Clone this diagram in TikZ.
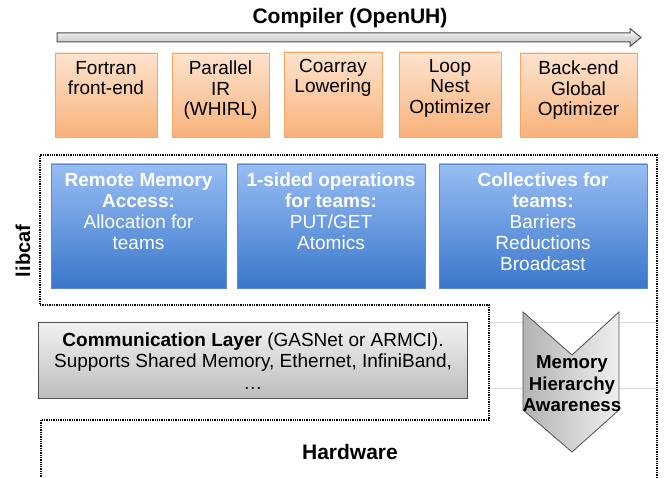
\documentclass[tikz,border=0pt]{standalone}
\usepackage{fontspec}
\setmainfont{Liberation Sans}
\usetikzlibrary{shadows}
\definecolor{orTop}{HTML}{FDE3CE}
\definecolor{orBot}{HTML}{F9B27A}
\definecolor{orLine}{HTML}{F5A565}
\definecolor{blTop}{HTML}{98BDF4}
\definecolor{blBot}{HTML}{3A77CB}
\definecolor{blLine}{HTML}{5A8AD0}
\definecolor{gyTop}{HTML}{F2F2F2}
\definecolor{gyBot}{HTML}{BDBDBD}
\definecolor{gyLine}{HTML}{505050}
\definecolor{arFill}{HTML}{DCDCDC}
\tikzset{
  softshadow/.style={drop shadow={shadow xshift=1pt, shadow yshift=-1.5pt, opacity=0.22, fill=black}},
  obox/.style={draw=orLine, line width=0.8pt, top color=orTop, bottom color=orBot, inner sep=0pt, outer sep=0pt, softshadow},
  bbox/.style={draw=blLine, line width=0.8pt, top color=blTop, bottom color=blBot, inner sep=0pt, outer sep=0pt, softshadow},
  gbox/.style={draw=gyLine, line width=0.8pt, top color=gyTop, bottom color=gyBot, inner sep=0pt, outer sep=0pt, softshadow},
  otext/.style={align=center, inner sep=0pt, anchor=north, font=\fontsize{19}{20.5}\selectfont},
  btext/.style={align=center, inner sep=0pt, anchor=north, text=white, font=\fontsize{19}{21}\selectfont},
  dotline/.style={densely dotted, line width=1.3pt},
  thinline/.style={draw=black!15, line width=0.7pt},
}
\begin{document}
\begin{tikzpicture}[x=1pt,y=-1pt]
\useasboundingbox (0,0) rectangle (670,478);

% title and compiler arrow
\node[font=\fontsize{21}{23}\selectfont\bfseries, inner sep=0pt] (title) at (350,18) {Compiler (OpenUH)};
\path[draw=gyLine, line width=1pt, top color=white!92!arFill, bottom color=arFill!85!black, line join=miter]
  (57,33) -- (630,33) -- (630,28.5) -- (641,37.5) -- (630,46.5) -- (630,42) -- (57,42) -- cycle;

% compiler stages
\node[obox, minimum width=102pt, minimum height=84pt] (f1) at (106,95) {};
\node[obox, minimum width=97pt, minimum height=84pt] (f2) at (220.5,95) {};
\node[obox, minimum width=98pt, minimum height=85pt] (f3) at (333,94.5) {};
\node[obox, minimum width=102pt, minimum height=85pt] (f4) at (450,94.5) {};
\node[obox, minimum width=117pt, minimum height=84pt] (f5) at (578.5,95) {};
\node[otext] (t1) at ([yshift=-8pt]f1.north) {Fortran\\front-end};
\node[otext] (t2) at ([yshift=-8pt]f2.north) {Parallel\\IR\\(WHIRL)};
\node[otext] (t3) at ([yshift=-7pt]f3.north) {Coarray\\Lowering};
\node[otext] (t4) at ([yshift=-7pt]f4.north) {Loop\\Nest\\Optimizer};
\node[otext] (t5) at ([yshift=-8pt]f5.north) {Back-end\\Global\\Optimizer};

% thin grey lines behind chevron
\draw[thinline] (489,322) -- (657,322);
\draw[thinline] (489,388) -- (657,388);

% dotted regions
\draw[dotline] (657,478) -- (657,155) -- (40,155) -- (40,305) -- (489,305) -- (489,420) -- (41,420) -- (41,478);
\node[rotate=90, font=\fontsize{20}{22}\selectfont\bfseries, inner sep=0pt] (libcaf) at (23,251) {libcaf};

% libcaf boxes
\node[bbox, minimum width=175pt, minimum height=124pt] (b1) at (138.5,226) {};
\node[bbox, minimum width=188pt, minimum height=124pt] (b2) at (331,226) {};
\node[bbox, minimum width=208pt, minimum height=124pt] (b3) at (543,226) {};
\node[btext] (bt1) at ([yshift=-9pt]b1.north) {\textbf{Remote Memory}\\\textbf{Access:}\\Allocation for\\teams};
\node[btext] (bt2) at ([yshift=-9pt]b2.north) {\textbf{1-sided operations}\\\textbf{for teams:}\\PUT/GET\\Atomics};
\node[btext] (bt3) at ([yshift=-9pt]b3.north) {\textbf{Collectives for}\\\textbf{teams:}\\Barriers\\Reductions\\Broadcast};

% communication layer
\node[gbox, minimum width=429pt, minimum height=76pt] (comm) at (252.5,360) {};
\node[align=center, inner sep=0pt, font=\fontsize{19}{21.5}\selectfont] (commt) at (253,361)
  {\textbf{Communication Layer} (GASNet or ARMCI).\\Supports Shared Memory, Ethernet, InfiniBand,\\…};

% hardware
\node[font=\fontsize{21}{23}\selectfont\bfseries, inner sep=0pt] (hw) at (350,452) {Hardware};

% memory hierarchy chevron
\path[draw=gyLine, line width=0.8pt, left color=black!30, right color=black!6]
  (523,312) -- (572,355) -- (619,312) -- (619,410) -- (572,452) -- (523,410) -- cycle;
\node[align=center, inner sep=0pt, font=\fontsize{18.7}{21.5}\selectfont\bfseries] (mha) at (572,384)
  {Memory\\Hierarchy\\Awareness};
\end{tikzpicture}
\end{document}
